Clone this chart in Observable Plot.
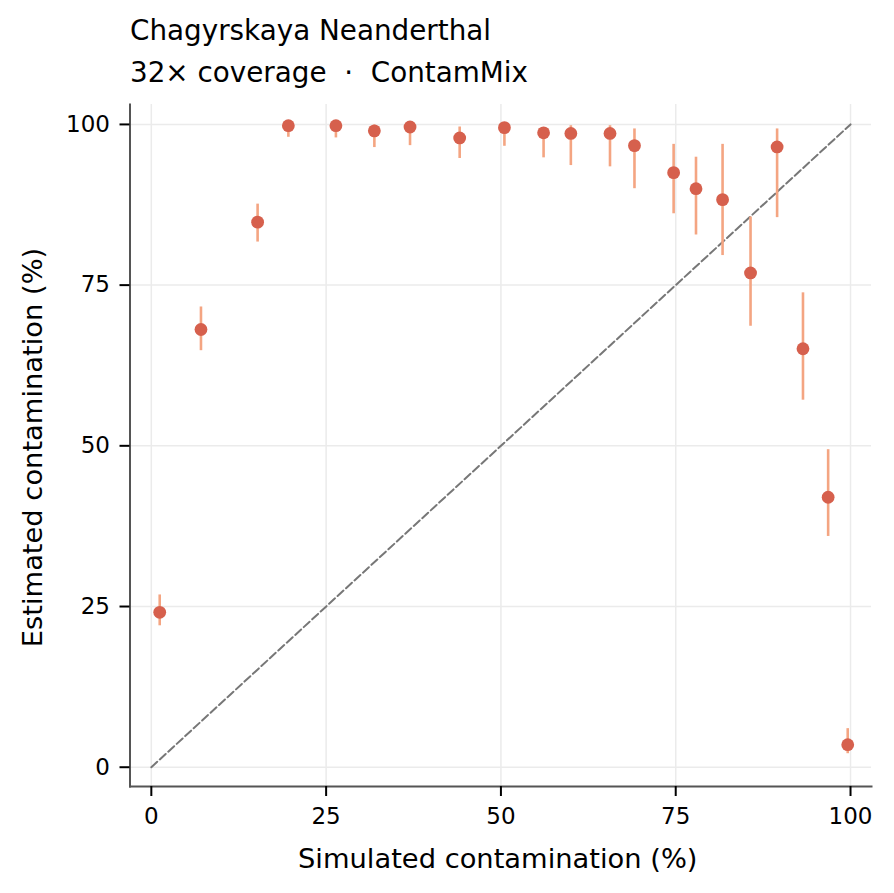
<!DOCTYPE html>
<html>
<head>
<meta charset="utf-8">
<script src="https://cdn.jsdelivr.net/npm/d3@7"></script>
<script src="https://cdn.jsdelivr.net/npm/@observablehq/plot@0.6"></script>
<style>
  html, body { margin: 0; padding: 0; background: #fff; }
  svg { font-family: "DejaVu Sans", sans-serif; display: block; }
</style>
</head>
<body>
<div id="chart"></div>
<script>
const title = "Chagyrskaya Neanderthal";
const subtitle = "32\u00d7 coverage\u00a0\u00a0\u00b7\u00a0\u00a0ContamMix";
const xLabel = "Simulated contamination (%)";
const yLabel = "Estimated contamination (%)";

const simulated = [1.2, 7.1, 15.2, 19.6, 26.4, 31.9, 37.0, 44.1, 50.5, 56.1, 60.0, 65.6, 69.1, 74.7, 77.9, 81.7, 85.7, 89.5, 93.2, 96.8, 99.6];
const estimated = [24.1, 68.1, 84.8, 99.8, 99.8, 99.0, 99.6, 97.9, 99.5, 98.7, 98.6, 98.6, 96.7, 92.5, 90.0, 88.3, 76.9, 96.5, 65.1, 42.0, 3.5];
const lower     = [22.0, 64.8, 81.7, 98.0, 97.9, 96.4, 96.7, 94.7, 96.6, 94.8, 93.6, 93.4, 90.0, 86.1, 82.8, 79.6, 68.6, 85.5, 57.1, 35.9, 2.1];
const upper     = [26.8, 71.6, 87.6, 100.0, 100.0, 99.9, 100.0, 99.6, 100.0, 99.5, 99.8, 99.8, 99.3, 96.9, 94.9, 96.9, 85.6, 99.3, 73.8, 49.4, 6.0];

const ticks = [0, 25, 50, 75, 100];
const identity = [0, 100];

const data = simulated.map((s, i) => ({sim: s, est: estimated[i], lo: lower[i], hi: upper[i]}));
const diag = identity.map(v => ({x: v, y: v}));

const chart = Plot.plot({
  width: 894,
  height: 893,
  marginLeft: 129.5,
  marginRight: 23,
  marginTop: 104,
  marginBottom: 107,
  style: {fontFamily: "DejaVu Sans, sans-serif", background: "#fff", overflow: "visible"},
  x: {domain: [-3.05, 103.0]},
  y: {domain: [-3.0, 103.1]},
  marks: [
    Plot.gridX(ticks, {stroke: "#ebebeb", strokeOpacity: 1, strokeWidth: 1.5}),
    Plot.gridY(ticks, {stroke: "#ebebeb", strokeOpacity: 1, strokeWidth: 1.5}),
    Plot.line(diag, {x: "x", y: "y", stroke: "#777777", strokeWidth: 2, strokeDasharray: "8,3.5"}),
    Plot.ruleX(data, {x: "sim", y1: "lo", y2: "hi", stroke: "#f4a582", strokeWidth: 2.6}),
    Plot.dot(data, {x: "sim", y: "est", r: 6.4, fill: "#d6604d", stroke: "none"}),
    Plot.frame({anchor: "left", stroke: "#555", strokeWidth: 2}),
    Plot.frame({anchor: "bottom", stroke: "#555", strokeWidth: 2}),
    Plot.axisX(ticks, {tickSize: 10, tickPadding: 11, fontSize: 23, stroke: "#000", strokeWidth: 2, fill: "#000", label: null}),
    Plot.axisY(ticks, {tickSize: 10, tickPadding: 10, fontSize: 23, stroke: "#000", strokeWidth: 2, fill: "#000", label: null}),
    Plot.text([xLabel], {text: d => d, frameAnchor: "bottom", textAnchor: "middle", lineAnchor: "bottom", dx: -3, dy: 81.7, fontSize: 27.3, fill: "#000"}),
    Plot.text([yLabel], {text: d => d, frameAnchor: "left", textAnchor: "middle", lineAnchor: "bottom", rotate: -90, dx: -87.8, dy: 2, fontSize: 27.3, fill: "#000"}),
    Plot.text([title], {text: d => d, frameAnchor: "top-left", textAnchor: "start", lineAnchor: "bottom", dx: 0, dy: -65, fontSize: 27.8, fill: "#000"}),
    Plot.text([subtitle], {text: d => d, frameAnchor: "top-left", textAnchor: "start", lineAnchor: "bottom", dx: 0, dy: -22.3, fontSize: 27.8, fill: "#000"})
  ]
});
document.getElementById("chart").appendChild(chart);
</script>
</body>
</html>
